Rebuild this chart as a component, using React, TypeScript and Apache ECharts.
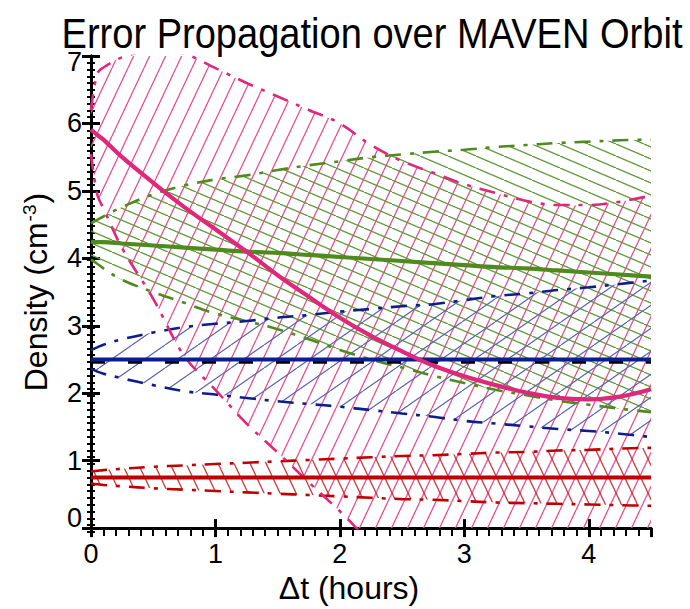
import React, { useEffect, useRef } from 'react';
import * as echarts from 'echarts';

// time axis (hours)
const T = [0, 0.05, 0.1, 0.25, 0.5, 0.75, 1, 1.25, 1.5, 1.75, 2, 2.25, 2.5, 2.75, 3, 3.25, 3.5, 3.75, 4, 4.25, 4.5];

// pink (magenta) band
const pinkMean = [5.91, 5.83, 5.76, 5.5, 5.12, 4.76, 4.43, 4.1, 3.75, 3.43, 3.12, 2.85, 2.62, 2.41, 2.25, 2.12, 2.01, 1.93, 1.91, 1.95, 2.06];
const pinkUpper = [6.2, 6.74, 6.83, 6.98, 7.08, 7.03, 6.82, 6.6, 6.4, 6.2, 6.0, 5.68, 5.44, 5.27, 5.1, 4.97, 4.85, 4.79, 4.79, 4.84, 4.93];
const pinkLower = [5.55, 4.95, 4.74, 4.15, 3.4, 2.55, 2.05, 1.55, 1.12, 0.68, 0.25, -0.2, -0.5, -0.75, -0.95, -1.1, -1.2, -1.3, -1.3, -1.3, -1.3];

// green band
const greenMean = [4.25, 4.24, 4.24, 4.22, 4.19, 4.16, 4.13, 4.1, 4.08, 4.05, 4.02, 3.99, 3.96, 3.93, 3.9, 3.87, 3.85, 3.82, 3.79, 3.76, 3.73];
const greenUpper = [4.52, 4.57, 4.62, 4.76, 4.95, 5.08, 5.17, 5.23, 5.31, 5.38, 5.44, 5.5, 5.54, 5.58, 5.61, 5.65, 5.68, 5.71, 5.73, 5.75, 5.76];
const greenLower = [3.98, 3.92, 3.85, 3.68, 3.5, 3.34, 3.18, 3.07, 2.95, 2.8, 2.64, 2.5, 2.38, 2.26, 2.15, 2.05, 1.97, 1.89, 1.83, 1.77, 1.72];

// blue band
const blueMean = [2.5, 2.5, 2.5, 2.5, 2.5, 2.5, 2.5, 2.5, 2.5, 2.5, 2.5, 2.5, 2.5, 2.5, 2.5, 2.5, 2.5, 2.5, 2.5, 2.5, 2.5];
const blueUpper = [2.64, 2.68, 2.72, 2.8, 2.9, 2.98, 3.03, 3.07, 3.12, 3.16, 3.21, 3.25, 3.29, 3.32, 3.38, 3.44, 3.48, 3.53, 3.57, 3.62, 3.67];
const blueLower = [2.36, 2.32, 2.29, 2.22, 2.12, 2.03, 1.98, 1.93, 1.88, 1.84, 1.8, 1.75, 1.7, 1.65, 1.59, 1.55, 1.51, 1.47, 1.44, 1.4, 1.35];

// red band
const redMean = [0.75, 0.75, 0.75, 0.75, 0.75, 0.75, 0.75, 0.75, 0.75, 0.75, 0.75, 0.75, 0.75, 0.75, 0.75, 0.75, 0.75, 0.75, 0.75, 0.75, 0.75];
const redUpper = [0.84, 0.85, 0.86, 0.88, 0.91, 0.93, 0.95, 0.97, 0.99, 1.01, 1.03, 1.05, 1.07, 1.08, 1.1, 1.12, 1.13, 1.15, 1.16, 1.18, 1.19];
const redLower = [0.66, 0.65, 0.64, 0.62, 0.59, 0.57, 0.55, 0.53, 0.51, 0.49, 0.47, 0.45, 0.43, 0.42, 0.4, 0.38, 0.37, 0.36, 0.35, 0.34, 0.33];

// reference level (black dashed)
const refLevel = [2.47, 2.47];
const refT = [0, 4.5];

const xTicks = [0, 1, 2, 3, 4];
const yTicks = [0, 1, 2, 3, 4, 5, 6, 7];

const TITLE = 'Error Propagation over MAVEN Orbit';
const FONT = 'Liberation Sans, Arial, Helvetica, sans-serif';

const C = {
  pink: '#e0287a', pinkH: '#e8508f',
  green: '#4e8a1e', greenH: '#64993f',
  blue: '#0b1e8c', blueH: '#5a63b6',
  red: '#c00000', redH: '#cc3a3a',
};

function hatch(w: number, h: number, color: string, lw: number, dir: '/' | '\\') {
  const c = document.createElement('canvas');
  c.width = w; c.height = h;
  const ctx = c.getContext('2d')!;
  ctx.strokeStyle = color;
  ctx.lineWidth = lw;
  ctx.beginPath();
  for (const k of [-1, 0, 1]) {
    if (dir === '/') { ctx.moveTo(k * w, h); ctx.lineTo(k * w + w, 0); }
    else { ctx.moveTo(k * w, 0); ctx.lineTo(k * w + w, h); }
  }
  ctx.stroke();
  return c;
}

const pairs = (a: number[]) => T.map((t, i) => [t, a[i]]);

export default function App() {
  const ref = useRef<HTMLDivElement>(null);
  useEffect(() => {
    const chart = echarts.init(ref.current!, null, { renderer: 'svg' });

    const pats: Record<string, any> = {
      pink: { image: hatch(16, 34, C.pinkH, 1.3, '/'), repeat: 'repeat' },
      green: { image: hatch(28, 12, C.greenH, 1.3, '\\'), repeat: 'repeat' },
      blue: { image: hatch(33, 23, C.blueH, 1.2, '/'), repeat: 'repeat' },
      red: { image: hatch(16, 34, C.redH, 1.3, '\\'), repeat: 'repeat' },
    };

    const SM = 0.35;
    // hatched band between lower and upper bound, drawn through the axes' scales
    const band = (key: string, lo: number[], up: number[]) => ({
      type: 'custom', coordinateSystem: 'cartesian2d', xAxisIndex: 0, yAxisIndex: 0,
      clip: true, silent: true, z: 1, data: [[0, 0]],
      renderItem: (_p: any, api: any) => {
        const n = T.length;
        const U = T.map((t, i) => api.coord([t, up[i]]));
        const L = T.map((t, i) => api.coord([t, lo[i]]));
        const pts: number[][] = [...U, U[n - 1], L[n - 1], L[n - 1]];
        for (let i = n - 2; i >= 0; i--) pts.push(L[i]);
        return {
          type: 'polyline', silent: true,
          shape: { points: pts, smooth: SM },
          style: { fill: pats[key], stroke: null, lineWidth: 0 },
        };
      },
    });
    const bound = (arr: number[], color: string) => ({
      type: 'line', data: pairs(arr), smooth: SM, symbol: 'none', silent: true, z: 3,
      lineStyle: { color, width: 2.6, type: [16, 9, 4, 9] },
    });
    const mean = (arr: number[], color: string, z = 5) => ({
      type: 'line', data: pairs(arr), smooth: SM, symbol: 'none', silent: true, z,
      lineStyle: { color, width: 4.2 },
    });

    const lbl = { fontSize: 27, color: '#000', fontFamily: FONT };
    const mainX = (pos: 'bottom' | 'top', showLabel: boolean) => ({
      type: 'value', gridIndex: 0, position: pos, min: 0, max: 4.5, interval: 1,
      axisLine: { show: true, lineStyle: { color: '#000', width: 3 } },
      axisTick: { show: true, inside: true, length: 9, lineStyle: { color: '#000', width: 3 } },
      splitLine: { show: false },
      axisLabel: {
        show: showLabel, ...lbl, margin: 12, showMaxLabel: false,
        formatter: (v: number) => (xTicks.indexOf(v) >= 0 ? String(v) : ''),
      },
      ...(showLabel ? {
        name: 'Δt (hours)', nameLocation: 'middle', nameGap: 41,
        nameTextStyle: { fontSize: 32, color: '#000', fontFamily: FONT, padding: [0, 44, 0, 0] },
      } : {}),
    });
    const minorX = (pos: 'bottom' | 'top') => ({
      type: 'value', gridIndex: 1, position: pos, min: 0, max: 4.5, interval: 0.1,
      axisLine: { show: false }, axisLabel: { show: false }, splitLine: { show: false },
      axisTick: { show: true, inside: true, length: 4, lineStyle: { color: '#000', width: 2 } },
    });
    const mainY = (pos: 'left' | 'right', showLabel: boolean) => ({
      type: 'value', gridIndex: 0, position: pos, min: 0, max: 7, interval: 1,
      axisLine: { show: true, lineStyle: { color: '#000', width: 3 } },
      axisTick: { show: true, inside: true, length: 9, lineStyle: { color: '#000', width: 3 } },
      splitLine: { show: false },
      axisLabel: {
        show: showLabel, ...lbl, margin: 9,
        formatter: (v: number) => (v === 0 ? '{lo|0}' : v === 7 ? '{hi|7}' : yTicks.indexOf(v) >= 0 ? '{n|' + v + '}' : ''),
        rich: {
          lo: { ...lbl, padding: [0, 0, 20, 0] },
          hi: { ...lbl, padding: [12, 0, 0, 0] },
          n: { ...lbl },
        },
      },
      ...(showLabel ? {
        name: 'Density (cm{sup|-3})', nameLocation: 'middle', nameGap: 39,
        nameTextStyle: {
          fontSize: 32, color: '#000', fontFamily: FONT,
          rich: { sup: { fontSize: 19, color: '#000', fontFamily: FONT, verticalAlign: 'top', padding: [0, 1, 13, 1] } },
        },
      } : {}),
    });
    const minorY = (pos: 'left' | 'right') => ({
      type: 'value', gridIndex: 1, position: pos, min: 0, max: 7, interval: 0.1,
      axisLine: { show: false }, axisLabel: { show: false }, splitLine: { show: false },
      axisTick: { show: true, inside: true, length: 4, lineStyle: { color: '#000', width: 2 } },
    });

    const grid = { left: 91, right: 39, top: 56, bottom: 77, containLabel: false };

    chart.setOption({
      animation: false,
      backgroundColor: '#fff',
      title: { show: false, text: TITLE },
      graphic: [{
        type: 'text', x: 372, y: 33, scaleX: 0.885, scaleY: 1, silent: true,
        style: { text: TITLE, fontSize: 43, fontFamily: FONT, fill: '#000', textAlign: 'center', textVerticalAlign: 'middle' },
      }],
      grid: [grid, { ...grid }],
      xAxis: [mainX('bottom', true), mainX('top', false), minorX('bottom'), minorX('top')],
      yAxis: [mainY('left', true), mainY('right', false), minorY('left'), minorY('right')],
      series: [
        band('pink', pinkLower, pinkUpper),
        band('green', greenLower, greenUpper),
        band('blue', blueLower, blueUpper),
        band('red', redLower, redUpper),
        bound(greenUpper, C.green), bound(greenLower, C.green),
        bound(blueUpper, C.blue), bound(blueLower, C.blue),
        bound(redUpper, C.red), bound(redLower, C.red),
        bound(pinkUpper, C.pink), bound(pinkLower, C.pink),
        {
          type: 'line', data: refT.map((t, i) => [t, refLevel[i]]), symbol: 'none', silent: true, z: 4,
          lineStyle: { color: '#000', width: 4.5, type: [14, 23] },
        },
        mean(greenMean, C.green), mean(blueMean, C.blue), mean(redMean, C.red), mean(pinkMean, C.pink, 6),
      ],
    });
    return () => chart.dispose();
  }, []);
  return <div ref={ref} style={{ position: 'fixed', left: 0, top: 0, width: 690, height: 609, background: '#fff' }} />;
}
